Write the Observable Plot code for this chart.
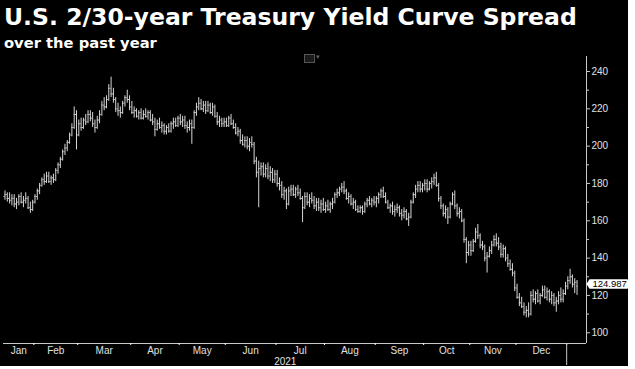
<!DOCTYPE html>
<html><head><meta charset="utf-8">
<script src="https://cdn.jsdelivr.net/npm/d3@7"></script>
<script src="https://cdn.jsdelivr.net/npm/@observablehq/plot@0.6"></script>
<style>
html,body{margin:0;padding:0;background:#fff;}
#wrap{position:relative;width:635px;height:369px;background:#fff;overflow:hidden;}
#panel{position:absolute;left:0;top:0;width:628px;height:366px;background:#000;}
#title{position:absolute;left:4px;top:4px;color:#fff;font-family:"DejaVu Sans";font-weight:bold;font-size:23px;white-space:nowrap;line-height:1.15;z-index:2;}
#subtitle{position:absolute;left:4px;top:35px;color:#fff;font-family:"DejaVu Sans";font-weight:bold;font-size:14px;white-space:nowrap;line-height:1.15;z-index:2;}
#icon{position:absolute;left:304px;top:54px;width:9px;height:7px;border:1px solid #555;background:#1a1a1a;z-index:2;}
#icon2{position:absolute;left:316px;top:53px;color:#666;font:7px "DejaVu Sans";z-index:2;}
#chart{position:absolute;left:0;top:52px;z-index:1;}
</style>
</head><body>
<div id="wrap"><div id="panel"></div>
<div id="title">U.S. 2/30-year Treasury Yield Curve Spread</div>
<div id="subtitle">over the past year</div>
<div id="chart"></div>
<div id="icon"></div><div id="icon2">▾</div>
</div>
<script>
// Daily OHLC bars [open, high, low, close] in basis points, one array per month
const jan21 = [[173,176,171,174],[174,175,170,172],[172,175,169,171],[171,174,168,172],[172,174,167,169],[169,172,166,170],[170,174,168,173],[173,175,169,170],[170,173,167,171],[171,175,169,172],[172,173,166,167],[167,170,164,166],[166,171,165,170]];
const feb21 = [[170,174,169,173],[173,177,171,176],[176,180,174,179],[179,183,178,182],[182,185,179,181],[181,186,180,184],[184,186,180,181],[181,184,179,183],[183,185,180,182],[182,188,181,187],[187,191,185,190],[190,194,188,193],[193,198,192,197],[197,201,195,199],[199,203,197,202],[202,207,201,206],[206,212,205,210],[210,221,209,217],[217,219,198,206]];
const mar21 = [[206,214,205,212],[212,215,208,210],[210,215,209,214],[214,217,211,213],[213,219,212,217],[217,219,213,215],[215,218,210,212],[212,214,207,210],[210,216,209,214],[214,219,212,217],[217,224,216,222],[222,226,219,221],[221,227,220,225],[225,233,224,231],[231,237,226,228],[228,231,223,225],[225,226,218,220],[220,223,216,219],[219,221,215,218],[218,224,217,223],[223,227,221,226],[226,230,223,225],[225,227,219,221]];
const apr21 = [[221,224,217,218],[218,221,215,219],[219,220,215,216],[216,219,214,218],[218,220,214,215],[215,219,214,217],[217,220,215,216],[216,219,214,218],[218,219,213,214],[214,217,211,213],[213,215,205,209],[209,214,208,212],[212,215,209,210],[210,213,207,211],[211,212,206,208],[208,211,206,210],[210,212,207,208],[208,213,207,212],[212,215,209,213],[213,215,210,211],[211,216,210,215]];
const may21 = [[215,217,211,213],[213,216,210,214],[214,216,209,211],[211,213,207,210],[210,214,208,212],[212,214,201,210],[210,219,209,218],[218,223,216,221],[221,226,219,223],[223,225,219,220],[220,224,218,222],[222,224,217,219],[219,224,218,222],[222,223,217,218],[218,223,216,221],[221,222,215,216],[216,218,211,213],[213,216,210,214],[214,215,210,212],[212,215,210,213]];
const jun21 = [[213,215,210,211],[211,216,210,215],[215,217,211,212],[212,214,209,210],[210,212,206,207],[207,210,205,208],[208,209,201,203],[203,206,200,201],[201,205,199,203],[203,205,198,200],[200,204,197,202],[202,205,199,201],[201,202,190,192],[192,194,183,186],[186,192,167,188],[188,191,184,189],[189,191,183,185],[185,190,183,188],[188,191,182,184],[184,189,181,186],[186,188,180,182],[182,187,180,185]];
const jul21 = [[185,187,178,180],[180,183,176,179],[179,181,172,174],[174,178,171,176],[176,177,166,169],[169,178,168,176],[176,179,173,177],[177,179,173,174],[174,178,172,177],[177,179,173,175],[175,177,171,172],[172,173,159,167],[167,175,166,173],[173,175,168,170],[170,174,167,172],[172,175,169,171],[171,173,166,168],[168,172,165,170],[170,172,165,167],[167,171,164,169],[169,172,165,166]];
const aug21 = [[166,170,164,168],[168,171,165,166],[166,170,164,169],[169,172,166,170],[170,175,169,174],[174,177,172,175],[175,178,173,177],[177,180,175,178],[178,181,174,176],[176,177,171,172],[172,175,169,173],[173,174,168,169],[169,172,166,170],[170,171,165,166],[166,168,164,165],[165,168,164,167],[167,168,163,165],[165,170,164,169],[169,172,167,171],[171,173,168,169],[169,172,167,171],[171,173,168,170]];
const sep21 = [[170,173,167,172],[172,175,169,174],[174,177,172,176],[176,178,172,173],[173,175,169,170],[170,171,166,167],[167,169,164,168],[168,170,163,165],[165,168,162,166],[166,169,164,167],[167,168,162,164],[164,166,160,163],[163,167,161,165],[165,166,160,161],[161,164,157,162],[162,171,161,170],[170,175,169,174],[174,179,172,177],[177,181,175,179],[179,181,175,177],[177,180,175,179]];
const oct21 = [[179,182,176,180],[180,182,175,177],[177,181,176,180],[180,183,177,181],[181,185,179,183],[183,186,178,179],[179,180,170,172],[172,173,166,168],[168,169,162,164],[164,168,161,166],[166,167,158,162],[162,170,161,169],[169,175,168,174],[174,176,166,168],[168,169,162,164],[164,167,161,165],[165,166,159,160],[160,161,148,150],[150,151,137,143],[143,149,141,147]];
const nov21 = [[147,149,141,144],[144,150,143,149],[149,156,148,154],[154,158,150,152],[152,153,145,147],[147,149,144,146],[146,147,138,140],[140,143,132,141],[141,146,140,144],[144,149,142,147],[147,152,146,150],[150,153,146,148],[148,151,144,146],[146,148,140,142],[142,147,140,145],[145,146,138,140],[140,142,135,137],[137,139,133,134],[134,137,130,132],[132,133,122,124]];
const dec21 = [[124,126,118,119],[119,121,114,116],[116,119,113,114],[114,116,109,111],[111,114,108,112],[112,116,108,110],[110,122,109,120],[120,123,116,118],[118,122,115,121],[121,123,116,117],[117,121,115,120],[120,125,119,123],[123,125,118,119],[119,124,117,122],[122,123,116,118],[118,122,115,120],[120,121,114,116],[116,119,111,117],[117,122,115,120],[120,124,116,118],[118,123,116,121],[121,127,120,125]];
const jan22 = [[125,130,123,128],[128,134,126,130],[130,131,124,126],[126,129,121,127],[127,128,120,124.987]];

const monthNames = ["Jan","Feb","Mar","Apr","May","Jun","Jul","Aug","Sep","Oct","Nov","Dec"];
const yearLabel = "2021";
const yMajor = [100,120,140,160,180,200,220,240];
const yMinor = [110,130,150,170,190,210,230];
const holidays = new Set(["2021-01-18","2021-02-15","2021-04-02","2021-05-31","2021-07-05","2021-09-06","2021-10-11","2021-11-11","2021-11-25","2021-12-24"]);
const months = [[2021,0,12,jan21],[2021,1,1,feb21],[2021,2,1,mar21],[2021,3,1,apr21],[2021,4,1,may21],[2021,5,1,jun21],[2021,6,1,jul21],[2021,7,1,aug21],[2021,8,1,sep21],[2021,9,1,oct21],[2021,10,1,nov21],[2021,11,1,dec21],[2022,0,1,jan22]];

function tradingDays(y, m, from) {
  const out = [];
  for (let d = from; d <= 31; d++) {
    const dt = new Date(Date.UTC(y, m, d));
    if (dt.getUTCMonth() !== m) break;
    const wd = dt.getUTCDay();
    if (wd === 0 || wd === 6) continue;
    if (holidays.has(dt.toISOString().slice(0,10))) continue;
    out.push(dt);
  }
  return out;
}

const bars = [];
for (const [y, m, from, arr] of months) {
  const days = tradingDays(y, m, from);
  if (days.length !== arr.length) console.warn("count mismatch", y, m, days.length, arr.length);
  arr.forEach((b, k) => bars.push({date: days[k], year: y, month: m, open: b[0], high: b[1], low: b[2], close: b[3]}));
}
bars.forEach((b, i) => b.i = i);

// month boundaries and label positions (trading-day index scale)
const starts = [];
bars.forEach((b, i) => { if (i === 0 || b.month !== bars[i-1].month) starts.push({i, year: b.year, month: b.month}); });
const bounds = starts.slice(1).map(s => s.i - 0.5);
const labels = starts.filter(s => s.year === 2021).map(s => {
  const next = starts[starts.indexOf(s) + 1];
  const lo = s.i - 0.5, hi = next.i - 0.5;
  return {pos: (lo + hi) / 2, text: monthNames[s.month]};
});
const yearBound = starts.find(s => s.year === 2022).i - 0.5;
const yearMid = (-0.5 + yearBound) / 2;
const last = bars[bars.length - 1].close;

const xDomain = [-0.65, 252.1];
const yDomain = [94.24, 248.04];
const barColor = "#d6d6d6";
const axisColor = "#c8c8c8";

const chart = Plot.plot({
  width: 628, height: 314,
  marginLeft: 3, marginRight: 42, marginTop: 4, marginBottom: 23,
  style: {background: "#000", color: "#e0e0e0", fontFamily: "Liberation Sans", fontSize: "10px", overflow: "visible"},
  x: {type: "linear", domain: xDomain},
  y: {domain: yDomain},
  marks: [
    Plot.ruleX(bars, {x: "i", y1: "low", y2: "high", stroke: barColor, strokeWidth: 1}),
    Plot.ruleY(bars, {y: "open", x1: d => d.i - 0.45, x2: "i", stroke: barColor, strokeWidth: 1}),
    Plot.ruleY(bars, {y: "close", x1: "i", x2: d => d.i + 0.45, stroke: barColor, strokeWidth: 1}),
    Plot.ruleX([xDomain[1]], {stroke: axisColor}),
    Plot.ruleY([yDomain[0]], {stroke: axisColor}),
    Plot.axisY(yMajor, {anchor: "right", tickSize: 3, tickPadding: 2, label: null, stroke: axisColor}),
    Plot.axisY(yMinor, {anchor: "right", tickSize: 2, tickFormat: () => "", label: null, stroke: axisColor}),
    Plot.axisX(labels.map(d => d.pos), {tickSize: 0, tickPadding: 3, tickFormat: p => labels.find(d => d.pos === p).text, label: null}),
    Plot.axisX(bounds, {tickSize: 2, tickFormat: () => "", label: null, stroke: "#fff"}),
    Plot.axisX([yearBound], {tickSize: 22, tickFormat: () => "", label: null, stroke: axisColor}),
    Plot.axisX([yearMid], {tickSize: 0, tickPadding: 14, tickFormat: () => yearLabel, label: null}),
    Plot.text([last], {x: xDomain[1], y: d => d, text: d => d.toFixed(3), dx: 6, dy: -2, textAnchor: "start", fill: "#000", fontSize: 9.5, className: "lastlabel"})
  ]
});
document.getElementById("chart").appendChild(chart);

// white tag behind the last-value label (same transform as the text)
const t = chart.querySelector(".lastlabel text");
if (t) {
  const bb = t.getBBox();
  const x0 = bb.x - 3, x1 = bb.x + bb.width + 2, y0 = bb.y + 1, y1 = bb.y + bb.height - 0.5, ym = (y0 + y1) / 2;
  const p = document.createElementNS("http://www.w3.org/2000/svg", "path");
  p.setAttribute("d", `M${x0-3},${ym} L${x0},${y0} L${x1-2},${y0} Q${x1},${y0} ${x1},${y0+2} L${x1},${y1-2} Q${x1},${y1} ${x1-2},${y1} L${x0},${y1} Z`);
  p.setAttribute("fill", "#fff");
  const tr = t.getAttribute("transform");
  if (tr) p.setAttribute("transform", tr);
  if (t.getAttribute("x")) p.setAttribute("transform", `translate(${t.getAttribute("x")},${t.getAttribute("y")}) ` + (tr || ""));
  const ptr = t.parentNode.getAttribute("transform");
  t.parentNode.insertBefore(p, t);
  if (t.getAttribute("x")) p.setAttribute("transform", tr || "");
}

// fit title widths to the reference
function fit(id, target) {
  const el = document.getElementById(id);
  const w = el.getBoundingClientRect().width;
  const fs = parseFloat(getComputedStyle(el).fontSize);
  el.style.fontSize = (fs * target / w) + "px";
}
fit("title", 573);
fit("subtitle", 153);
</script>
</body></html>
